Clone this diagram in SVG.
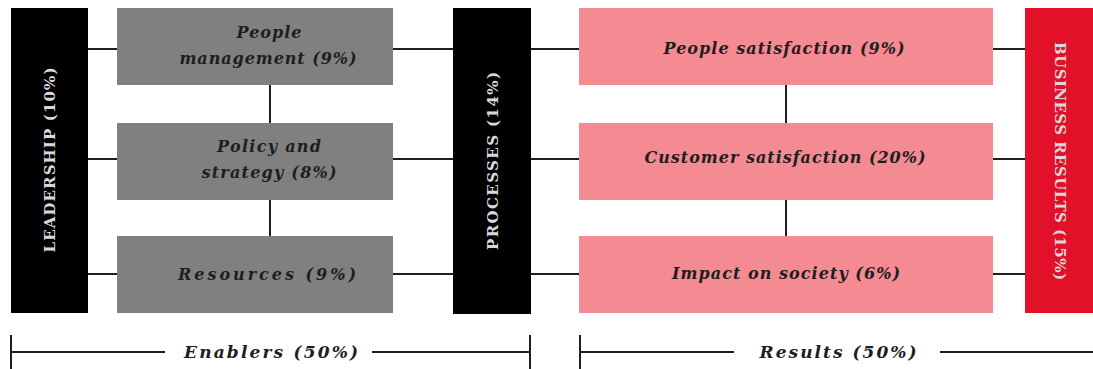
<svg xmlns="http://www.w3.org/2000/svg" width="1093" height="369" viewBox="0 0 1093 369">
  <style>
    .lbl { font-family: "DejaVu Serif", "Liberation Serif", serif; font-weight: bold; font-style: italic; font-size: 16px; fill: #1e1e1e; text-anchor: middle; }
    .big { font-size: 17px; }
    .vlbl { font-family: "DejaVu Serif", "Liberation Serif", serif; font-weight: bold; font-size: 15px; fill: #d8d8d8; text-anchor: middle; }
    .wire { stroke: #1e1e1e; stroke-width: 2; fill: none; }
    .black { fill: #000000; }
    .gray { fill: #808080; }
    .pink { fill: #f48a92; }
    .red { fill: #e3102a; }
  </style>

  <!-- connectors -->
  <g id="connectors">
    <path class="wire" d="M88 49H117M88 159H117M88 274H117"/>
    <path class="wire" d="M270 85V123M270 200V236"/>
    <path class="wire" d="M393 49H453M393 159H453M393 274H453"/>
    <path class="wire" d="M531 49H579M531 159H579M531 274H579"/>
    <path class="wire" d="M786 85V123M786 200V236"/>
    <path class="wire" d="M993 49H1025M993 159H1025M993 274H1025"/>
  </g>

  <g id="leadership">
    <rect class="black" x="11" y="8" width="77" height="305"/>
    <text class="vlbl" transform="translate(55 160) rotate(-90)" textLength="185" lengthAdjust="spacing">LEADERSHIP (10%)</text>
  </g>

  <g id="people-management">
    <rect class="gray" x="117" y="8" width="276" height="77"/>
    <text class="lbl" x="269" y="38" textLength="65" lengthAdjust="spacing">People</text>
    <text class="lbl" x="268" y="64" textLength="177" lengthAdjust="spacing">management (9%)</text>
  </g>
  <g id="policy-strategy">
    <rect class="gray" x="117" y="123" width="276" height="77"/>
    <text class="lbl" x="269" y="152" textLength="104" lengthAdjust="spacing">Policy and</text>
    <text class="lbl" x="269" y="178" textLength="135" lengthAdjust="spacing">strategy (8%)</text>
  </g>
  <g id="resources">
    <rect class="gray" x="117" y="236" width="276" height="77"/>
    <text class="lbl" x="267" y="280" textLength="178" lengthAdjust="spacing">Resources (9%)</text>
  </g>

  <g id="processes">
    <rect class="black" x="453" y="8" width="78" height="306"/>
    <text class="vlbl" transform="translate(498 161) rotate(-90)" textLength="178" lengthAdjust="spacing">PROCESSES (14%)</text>
  </g>

  <g id="people-satisfaction">
    <rect class="pink" x="579" y="8" width="414" height="77"/>
    <text class="lbl" x="784" y="54" textLength="241" lengthAdjust="spacing">People satisfaction (9%)</text>
  </g>
  <g id="customer-satisfaction">
    <rect class="pink" x="579" y="123" width="414" height="77"/>
    <text class="lbl" x="785" y="163" textLength="281" lengthAdjust="spacing">Customer satisfaction (20%)</text>
  </g>
  <g id="impact-society">
    <rect class="pink" x="579" y="236" width="414" height="77"/>
    <text class="lbl" x="786" y="279" textLength="228" lengthAdjust="spacing">Impact on society (6%)</text>
  </g>

  <g id="business-results">
    <rect class="red" x="1025" y="8" width="68" height="305"/>
    <text class="vlbl" transform="translate(1055 161) rotate(90)" textLength="238" lengthAdjust="spacing">BUSINESS RESULTS (15%)</text>
  </g>

  <!-- span brackets along the bottom -->
  <g id="enablers-span">
    <path class="wire" d="M11 335V369M11 352H165M372 352H530M530 335V369"/>
    <text class="lbl big" x="271" y="358" textLength="174" lengthAdjust="spacing">Enablers (50%)</text>
  </g>
  <g id="results-span">
    <path class="wire" d="M580 335V369M580 352H734M940 352H1093"/>
    <text class="lbl big" x="838" y="358" textLength="157" lengthAdjust="spacing">Results (50%)</text>
  </g>
</svg>
